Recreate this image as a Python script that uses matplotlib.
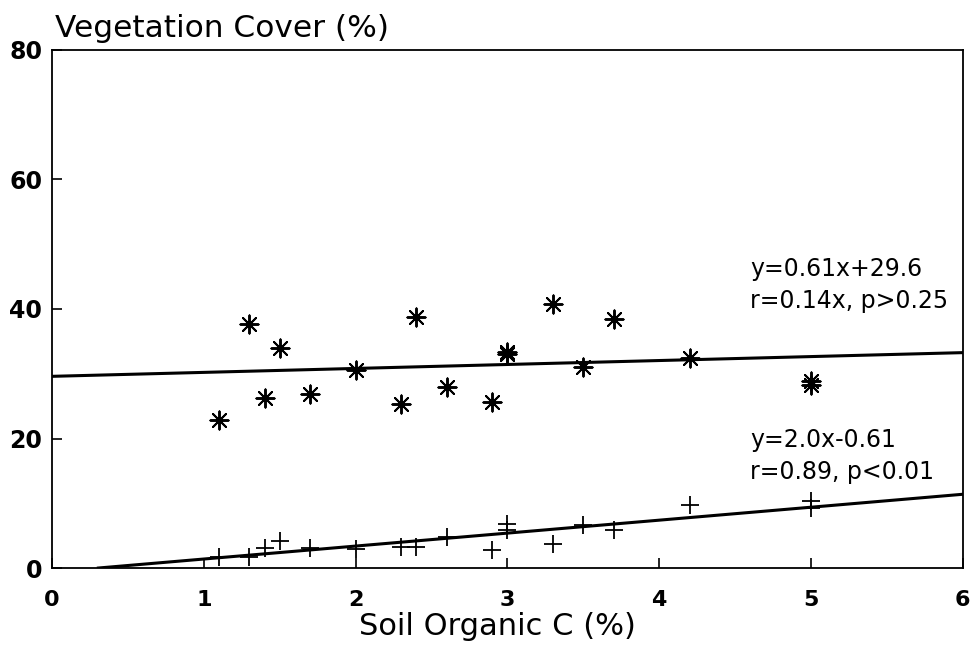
import numpy as np
import matplotlib.pyplot as plt

plt.rcParams['font.family'] = ['DejaVu Sans']

# Upper series (asterisks)
soil_c_star = [1.1, 1.3, 1.4, 1.5, 1.7, 2.0, 2.3, 2.4, 2.6, 2.9, 3.0, 3.0, 3.3, 3.5, 3.7, 4.2, 5.0, 5.0]
cover_star = [22.8, 37.7, 26.3, 33.9, 26.9, 30.6, 25.3, 38.8, 27.9, 25.6, 33.0, 33.4, 40.7, 31.0, 38.5, 32.5, 28.3, 28.9]

# Lower series (plus signs)
soil_c_plus = [1.1, 1.3, 1.4, 1.5, 1.7, 2.0, 2.3, 2.4, 2.6, 2.9, 3.0, 3.0, 3.3, 3.5, 3.7, 4.2, 5.0, 5.0]
cover_plus = [1.7, 1.7, 3.1, 4.2, 3.1, 2.9, 3.2, 3.2, 4.8, 2.8, 5.8, 6.8, 3.7, 6.6, 5.8, 9.7, 9.2, 10.3]

# Regression fits (slope, intercept) as printed on the chart
fit_star = (0.61, 29.6)
fit_plus = (2.0, -0.61)

fig = plt.figure(figsize=(9.71, 6.52), dpi=100)
ax = fig.add_axes([0.0536, 0.1288, 0.938, 0.7946])

ax.scatter(soil_c_star, cover_star, marker=(8, 2, 0), s=170, color='black', linewidths=1.4, zorder=3)
ax.scatter(soil_c_plus, cover_plus, marker='+', s=170, color='black', linewidths=1.3, zorder=3)

xs = np.array([0, 6])
ax.plot(xs, fit_star[0] * xs + fit_star[1], color='black', lw=2.2)
x0 = -fit_plus[1] / fit_plus[0]
xp = np.array([x0, 6])
ax.plot(xp, fit_plus[0] * xp + fit_plus[1], color='black', lw=2.2)

ax.text(4.6, 46.2, 'y=0.61x+29.6', fontsize=17, va='center')
ax.text(4.6, 41.3, 'r=0.14x, p>0.25', fontsize=17, va='center')
ax.text(4.6, 19.7, 'y=2.0x-0.61', fontsize=17, va='center')
ax.text(4.6, 14.8, 'r=0.89, p<0.01', fontsize=17, va='center')

ax.set_xlim(0, 6)
ax.set_ylim(0, 80)
ax.set_xticks(range(0, 7))
ax.set_yticks(range(0, 81, 20))
ax.tick_params(axis='x', direction='in', length=7, width=1.2, pad=16, labelsize=16)
ax.tick_params(axis='y', direction='in', length=7, width=1.2, pad=7, labelsize=17)
for lab in ax.get_xticklabels() + ax.get_yticklabels():
    lab.set_fontweight('bold')
for sp in ax.spines.values():
    sp.set_linewidth(1.3)

fig.text(55 / 971, 1 - 37 / 652, 'Vegetation Cover (%)', fontsize=22.5, va='baseline', ha='left')
fig.text(497 / 971, 1 - 635 / 652, 'Soil Organic C (%)', fontsize=22, va='baseline', ha='center')

fig.savefig('out.png', dpi=100)
